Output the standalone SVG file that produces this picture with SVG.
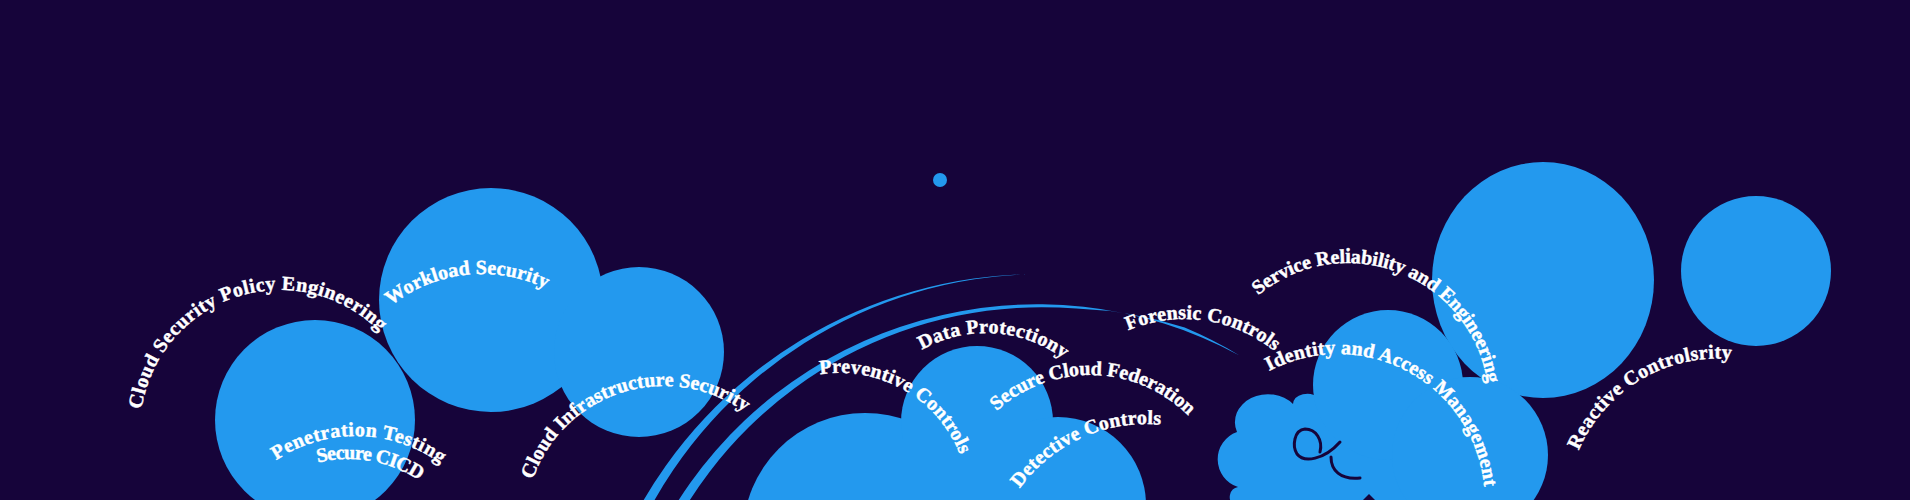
<svg xmlns="http://www.w3.org/2000/svg" width="1910" height="500" viewBox="0 0 1910 500">
<defs>
<style>
.bg{fill:#16043a}
.blob{fill:#2399ee}
.arc{fill:#2399ee}
.lbl{font-family:"Liberation Serif","DejaVu Serif",serif;font-weight:bold;font-size:20px;fill:#ffffff;stroke:#ffffff;stroke-width:0.45}
.squig{fill:none;stroke:#16043a;stroke-width:3;stroke-linecap:round}
</style>
<path id="p1" d="M141.5,409.5 A140,140 0 0 1 379.9,331.9"/>
<path id="p2" d="M390.9,305.6 A147,147 0 0 1 545.5,288.4"/>
<path id="p3" d="M276.1,460.2 A144,144 0 0 1 440.4,463.4"/>
<path id="p4" d="M317.7,462.6 A129,129 0 0 1 419.6,480.7"/>
<path id="p5" d="M532.6,479.7 A139,139 0 0 1 744.3,411.6"/>
<path id="p6" d="M921.8,350 A130,130 0 0 1 1063.1,358.4"/>
<path id="p7" d="M820,374.5 A129,129 0 0 1 959.9,454.5"/>
<path id="p8" d="M996.8,410.9 A139,139 0 0 1 1188.1,415.5"/>
<path id="p9" d="M1019.6,488.5 A156,156 0 0 1 1160.4,424.7"/>
<path id="p10" d="M1128.1,330.4 A143,143 0 0 1 1274.4,351.2"/>
<path id="p11" d="M1258.1,295.4 A141,141 0 0 1 1487.5,383.6"/>
<path id="p12" d="M1269.2,371.1 A147,147 0 0 1 1484.3,486.7"/>
<path id="p13" d="M1578.7,450.6 A151.5,151.5 0 0 1 1730.7,359"/>
</defs>
<rect class="bg" x="0" y="0" width="1910" height="500"/>

<g id="workload-security"><circle class="blob" cx="491" cy="300" r="112"/></g>
<g id="penetration-testing"><circle class="blob" cx="315" cy="420" r="100"/></g>
<g id="cloud-infrastructure-security"><circle class="blob" cx="639" cy="352" r="85"/></g>
<g id="dot"><circle class="blob" cx="940" cy="180" r="7"/></g>
<g id="service-reliability"><ellipse class="blob" cx="1543" cy="280" rx="111" ry="118"/></g>
<g id="reactive-controls"><circle class="blob" cx="1756" cy="271" r="75"/></g>
<g id="controls-cloud">
<circle class="blob" cx="865" cy="535" r="122"/>
<circle class="blob" cx="977" cy="422" r="76"/>
<circle class="blob" cx="1058" cy="505" r="88"/>
<rect class="blob" x="903" y="422" width="150" height="90"/>
</g>
<g id="identity-cloud">
<path class="blob" d="M1318,398 A14,11 0 0 0 1293,404 A33,28 0 0 0 1237,432 A29,29 0 0 0 1238,487 A10,10 0 0 0 1234,505 L1470,505 L1470,440 Z"/>
<circle class="blob" cx="1388" cy="385" r="75"/>
<circle class="blob" cx="1470" cy="455" r="78"/>
<path class="bg" d="M1362,501 L1369,494 L1376,501 Z"/>
<path class="squig" d="M1320,452 C1323,440 1316,429 1305,429 C1294,430 1292,446 1297,454 C1304,463 1324,460 1340,442 M1331,457 C1331,470 1340,480 1360,478"/>
</g>

<g id="connectors">
<path class="arc" d="M633.7,518 A456,456 0 0 1 1035.3,274 A447,447 0 0 0 642.6,522.5 Z"/>
<path class="arc" d="M668,517.6 A426,426 0 0 1 1239.5,355.4 A421,421 0 0 0 1184.7,327.5 A420,420 0 0 0 1076.4,308.6 A417,417 0 0 0 676.8,522 Z"/>
</g>

<g id="labels">
<text class="lbl"><textPath href="#p1" textLength="310" lengthAdjust="spacing">Cloud Security Policy Engineering</textPath></text>
<text class="lbl"><textPath href="#p2" textLength="164" lengthAdjust="spacing">Workload Security</textPath></text>
<text class="lbl"><textPath href="#p3" textLength="175" lengthAdjust="spacing">Penetration Testing</textPath></text>
<text class="lbl"><textPath href="#p4" textLength="106" lengthAdjust="spacing">Secure CICD</textPath></text>
<text class="lbl"><textPath href="#p5" textLength="258" lengthAdjust="spacing">Cloud Infrastructure Security</textPath></text>
<text class="lbl"><textPath href="#p6" textLength="150" lengthAdjust="spacing">Data Protectiony</textPath></text>
<text class="lbl"><textPath href="#p7" textLength="174" lengthAdjust="spacing">Preventive Controls</textPath></text>
<text class="lbl"><textPath href="#p8" textLength="211" lengthAdjust="spacing">Secure Cloud Federation</textPath></text>
<text class="lbl"><textPath href="#p9" textLength="162" lengthAdjust="spacing">Detective Controls</textPath></text>
<text class="lbl"><textPath href="#p10" textLength="155" lengthAdjust="spacing">Forensic Controls</textPath></text>
<text class="lbl"><textPath href="#p11" textLength="298" lengthAdjust="spacing">Service Reliability and Engineering</textPath></text>
<text class="lbl"><textPath href="#p12" textLength="288" lengthAdjust="spacing">Identity and Access Management</textPath></text>
<text class="lbl"><textPath href="#p13" textLength="190" lengthAdjust="spacing">Reactive Controlsrity</textPath></text>
</g>
</svg>
